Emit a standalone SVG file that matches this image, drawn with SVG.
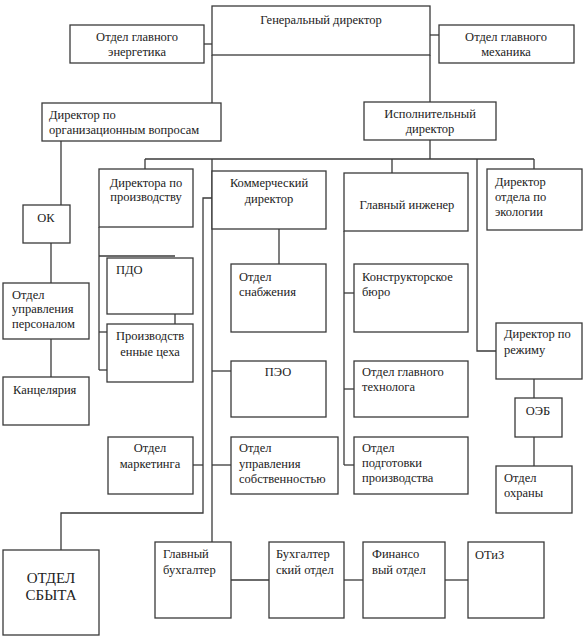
<svg xmlns="http://www.w3.org/2000/svg" width="587" height="640" viewBox="0 0 587 640">
<style>
rect{fill:#fff;stroke:#3a3a3a;stroke-width:1.3}
.c line,.c polyline{stroke:#3a3a3a;stroke-width:1.3;fill:none}
text{font-size:12.5px;fill:#222}
.m{text-anchor:middle}
.big{font-size:15px}
</style>
<rect x="0" y="0" width="587" height="640" style="stroke:none"/>
<g class="c">
<line x1="212" y1="55" x2="212" y2="103"/>
<line x1="430" y1="55" x2="430" y2="159"/>
<line x1="204" y1="44" x2="212" y2="44"/>
<line x1="430" y1="35" x2="439" y2="35"/>
<line x1="61" y1="141" x2="61" y2="205"/>
<line x1="51" y1="243" x2="51" y2="283"/>
<line x1="51" y1="339" x2="51" y2="377"/>
<line x1="145" y1="159" x2="534" y2="159"/>
<line x1="145" y1="159" x2="145" y2="169"/>
<line x1="212" y1="159" x2="212" y2="542"/>
<line x1="392" y1="159" x2="392" y2="173"/>
<line x1="534" y1="159" x2="534" y2="169"/>
<polyline points="477,159 477,351 496,351"/>
<line x1="99" y1="227" x2="99" y2="370"/>
<line x1="99" y1="256" x2="175" y2="256"/>
<line x1="175" y1="314" x2="175" y2="324"/>
<line x1="99" y1="332" x2="107" y2="332"/>
<line x1="99" y1="370" x2="107" y2="370"/>
<line x1="279" y1="229" x2="279" y2="264"/>
<line x1="212" y1="371" x2="231" y2="371"/>
<line x1="212" y1="465" x2="231" y2="465"/>
<polyline points="212,198 203,198 203,513 61,513 61,550"/>
<line x1="193" y1="465" x2="203" y2="465"/>
<line x1="344" y1="231" x2="344" y2="465"/>
<line x1="344" y1="293" x2="354" y2="293"/>
<line x1="344" y1="389" x2="354" y2="389"/>
<line x1="344" y1="465" x2="354" y2="465"/>
<line x1="534" y1="379" x2="534" y2="398"/>
<line x1="534" y1="437" x2="534" y2="466"/>
<line x1="231" y1="580" x2="269" y2="580"/>
<line x1="344" y1="580" x2="363" y2="580"/>
<line x1="445" y1="580" x2="468" y2="580"/>
</g>
<g font-family="Liberation Serif, DejaVu Serif, Times New Roman, serif">
<g id="gen"><rect x="212" y="6" width="218" height="49"/><text class="m" x="321" y="24">Генеральный директор</text></g>
<g id="energ"><rect x="70" y="25" width="134" height="38"/><text class="m" x="137" y="41">Отдел главного</text><text class="m" x="137" y="56">энергетика</text></g>
<g id="mech"><rect x="439" y="25" width="135" height="38"/><text class="m" x="506" y="41">Отдел главного</text><text class="m" x="506" y="56">механика</text></g>
<g id="org"><rect x="42" y="103" width="179" height="38"/><text x="49" y="119">Директор по</text><text x="49" y="134">организационным вопросам</text></g>
<g id="isp"><rect x="364" y="102" width="132" height="38"/><text class="m" x="430" y="118">Исполнительный</text><text class="m" x="430" y="133">директор</text></g>
<g id="ok"><rect x="23" y="205" width="47" height="38"/><text class="m" x="46" y="222">ОК</text></g>
<g id="oup"><rect x="3" y="283" width="86" height="56"/><text x="12" y="299">Отдел</text><text x="12" y="313">управления</text><text x="12" y="328">персоналом</text></g>
<g id="kanc"><rect x="3" y="377" width="86" height="48"/><text x="13" y="394">Канцелярия</text></g>
<g id="dpr"><rect x="99" y="169" width="94" height="58"/><text class="m" x="146" y="187">Директора по</text><text class="m" x="146" y="201">производству</text></g>
<g id="pdo"><rect x="107" y="258" width="86" height="56"/><text x="116" y="274">ПДО</text></g>
<g id="pc"><rect x="107" y="324" width="86" height="58"/><text class="m" x="150" y="340">Производств</text><text class="m" x="150" y="356">енные цеха</text></g>
<g id="kom"><rect x="212" y="171" width="114" height="58"/><text class="m" x="269" y="187">Коммерческий</text><text class="m" x="269" y="203">директор</text></g>
<g id="snab"><rect x="231" y="264" width="95" height="68"/><text x="239" y="281">Отдел</text><text x="239" y="296">снабжения</text></g>
<g id="peo"><rect x="231" y="361" width="95" height="56"/><text class="m" x="278" y="376">ПЭО</text></g>
<g id="mark"><rect x="108" y="437" width="85" height="57"/><text class="m" x="150" y="452">Отдел</text><text class="m" x="150" y="468">маркетинга</text></g>
<g id="sobst"><rect x="231" y="437" width="107" height="57"/><text x="239" y="452">Отдел</text><text x="239" y="468">управления</text><text x="239" y="483">собственностью</text></g>
<g id="ing"><rect x="344" y="173" width="124" height="58"/><text class="m" x="407" y="209">Главный инженер</text></g>
<g id="kb"><rect x="354" y="264" width="114" height="68"/><text x="362" y="281">Конструкторское</text><text x="362" y="296">бюро</text></g>
<g id="tech"><rect x="354" y="361" width="114" height="56"/><text x="362" y="376">Отдел главного</text><text x="362" y="391">технолога</text></g>
<g id="podg"><rect x="354" y="437" width="114" height="57"/><text x="362" y="452">Отдел</text><text x="362" y="467">подготовки</text><text x="362" y="482">производства</text></g>
<g id="ekol"><rect x="487" y="169" width="95" height="61"/><text x="495" y="186">Директор</text><text x="495" y="201">отдела по</text><text x="495" y="216">экологии</text></g>
<g id="rezh"><rect x="496" y="323" width="86" height="56"/><text x="504" y="338">Директор по</text><text x="504" y="354">режиму</text></g>
<g id="oeb"><rect x="515" y="398" width="47" height="39"/><text class="m" x="538" y="415">ОЭБ</text></g>
<g id="ohr"><rect x="496" y="466" width="76" height="47"/><text x="504" y="482">Отдел</text><text x="504" y="497">охраны</text></g>
<g id="sbyt"><rect x="3" y="550" width="96" height="85"/><text class="m big" x="51" y="583">ОТДЕЛ</text><text class="m big" x="51" y="600">СБЫТА</text></g>
<g id="gb"><rect x="155" y="542" width="76" height="76"/><text x="163" y="558">Главный</text><text x="163" y="574">бухгалтер</text></g>
<g id="bo"><rect x="269" y="542" width="75" height="76"/><text x="276" y="558">Бухгалтер</text><text x="276" y="574">ский отдел</text></g>
<g id="fin"><rect x="363" y="542" width="82" height="76"/><text x="372" y="558">Финансо</text><text x="372" y="574">вый отдел</text></g>
<g id="otiz"><rect x="468" y="542" width="76" height="76"/><text x="475" y="559">ОТиЗ</text></g>
</g>
</svg>
